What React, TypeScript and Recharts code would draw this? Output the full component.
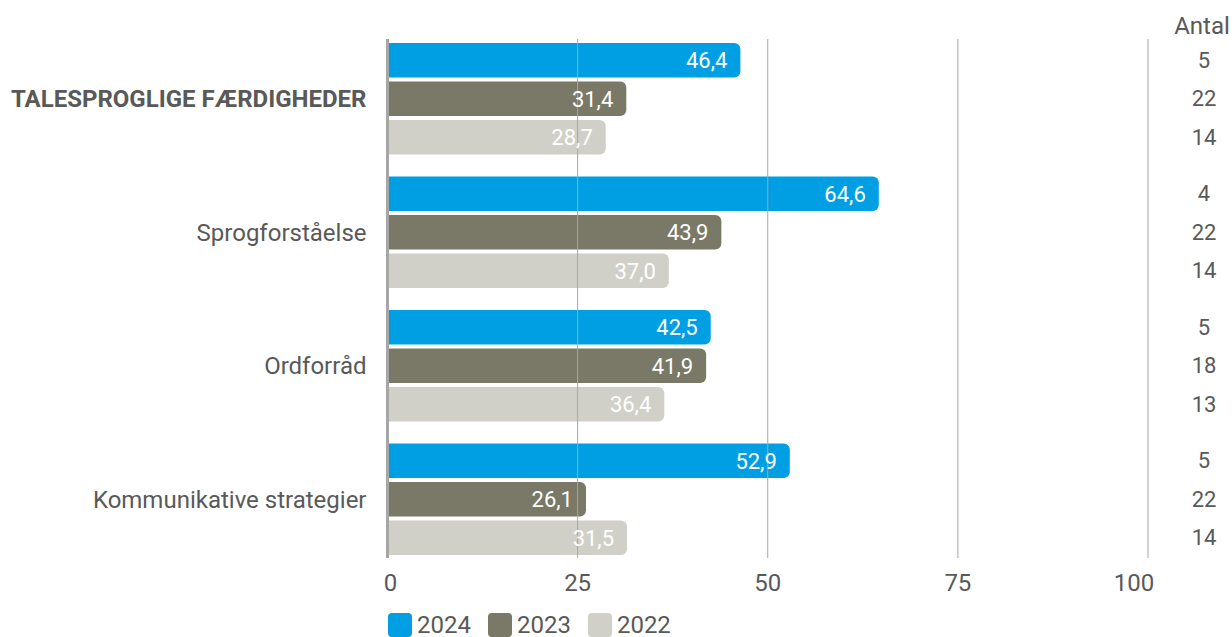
import { BarChart, Bar, XAxis, YAxis, ReferenceLine, LabelList, Legend } from 'recharts';

const categories = ['TALESPROGLIGE FÆRDIGHEDER', 'Sprogforståelse', 'Ordforråd', 'Kommunikative strategier'];
const values2024 = [46.4, 64.6, 42.5, 52.9];
const values2023 = [31.4, 43.9, 41.9, 26.1];
const values2022 = [28.7, 37.0, 36.4, 31.5];
const antal2024 = [5, 4, 5, 5];
const antal2023 = [22, 22, 18, 22];
const antal2022 = [14, 14, 13, 14];
const xTicks = [0, 25, 50, 75, 100];
const years = ['2024', '2023', '2022'];

const COLORS = ['#009fe3', '#7a7866', '#d1d0c8'];
const TEXT = '#595959';
const FONT = 'Roboto, sans-serif';

const data = categories.map((name, i) => ({
  name,
  v2024: values2024[i],
  v2023: values2023[i],
  v2022: values2022[i],
  n2024: antal2024[i],
  n2023: antal2023[i],
  n2022: antal2022[i],
}));

const fmt = (v: any) => Number(v).toFixed(1).replace('.', ',');

// counts column on the right, one per bar
const antalLabel = (props: any) => {
  const { y, height, value } = props;
  return (
    <text x={1204} y={Number(y) + Number(height) / 2} dy="0.35em" textAnchor="middle" fill={TEXT} fontSize={22} fontFamily={FONT}>
      {value}
    </text>
  );
};

const CategoryTick = (props: any) => {
  const { x, y, payload, index } = props;
  return (
    <text x={x} y={y} dy="0.35em" textAnchor="end" fill={TEXT} fontSize={24} fontFamily={FONT} fontWeight={index === 0 ? 700 : 400}>
      {payload.value}
    </text>
  );
};

// first and last x labels are nudged inward like in the original
const ValueTick = (props: any) => {
  const { x, y, payload, index } = props;
  const dx = index === 0 ? 3 : index === xTicks.length - 1 ? -14 : 0;
  return (
    <text x={x + dx} y={y} dy="0.71em" textAnchor="middle" fill={TEXT} fontSize={24} fontFamily={FONT}>
      {payload.value}
    </text>
  );
};

const LegendContent = () => (
  <div style={{ display: 'flex', fontFamily: FONT, fontSize: 24, color: TEXT, lineHeight: '24px' }}>
    {years.map((y, i) => (
      <div key={y} style={{ display: 'flex', alignItems: 'center', marginRight: 17 }}>
        <span style={{ width: 24, height: 24, borderRadius: 4, background: COLORS[i], marginRight: 5, display: 'inline-block' }} />
        <span>{y}</span>
      </div>
    ))}
  </div>
);

export default function App() {
  return (
    <div style={{ position: 'absolute', left: 0, top: 0, width: 1232, height: 637, background: '#fff' }}>
      <div style={{ position: 'absolute', left: 1202, top: 12, transform: 'translateX(-50%)', fontFamily: FONT, fontSize: 24, lineHeight: '28px', color: TEXT }}>
        Antal
      </div>
      <BarChart
        width={1232}
        height={637}
        data={data}
        layout="vertical"
        margin={{ top: 39, right: 84, bottom: 49, left: 0 }}
        barSize={34.5}
        barGap={4}
      >
        <XAxis
          type="number"
          domain={[0, 100]}
          ticks={xTicks}
          height={30}
          axisLine={false}
          tickLine={false}
          tickSize={0}
          tickMargin={16}
          tick={<ValueTick />}
        />
        <YAxis
          type="category"
          dataKey="name"
          width={387.5}
          axisLine={false}
          tickLine={false}
          tickSize={0}
          tickMargin={21}
          padding={{ top: -7, bottom: -8 }}
          tick={<CategoryTick />}
        />
        <Legend
          layout="horizontal"
          verticalAlign="middle"
          align="center"
          content={<LegendContent />}
          wrapperStyle={{ left: 388, top: 613, width: 'auto' }}
        />
        <Bar dataKey="v2024" fill={COLORS[0]} radius={[0, 6, 6, 0]} isAnimationActive={false}>
          <LabelList dataKey="v2024" position="insideRight" offset={13} fill="#fff" fontSize={22} fontFamily={FONT} formatter={fmt} />
          <LabelList dataKey="n2024" content={antalLabel} />
        </Bar>
        <Bar dataKey="v2023" fill={COLORS[1]} radius={[0, 6, 6, 0]} isAnimationActive={false}>
          <LabelList dataKey="v2023" position="insideRight" offset={13} fill="#fff" fontSize={22} fontFamily={FONT} formatter={fmt} />
          <LabelList dataKey="n2023" content={antalLabel} />
        </Bar>
        <Bar dataKey="v2022" fill={COLORS[2]} radius={[0, 6, 6, 0]} isAnimationActive={false}>
          <LabelList dataKey="v2022" position="insideRight" offset={13} fill="#fff" fontSize={22} fontFamily={FONT} formatter={fmt} />
          <LabelList dataKey="n2022" content={antalLabel} />
        </Bar>
        {xTicks.slice(1).map((t) => (
          <ReferenceLine key={t} x={t} stroke="#a6a6a6" strokeWidth={1} />
        ))}
        <ReferenceLine x={0} stroke="#a6a6a6" strokeWidth={3} />
      </BarChart>
    </div>
  );
}
